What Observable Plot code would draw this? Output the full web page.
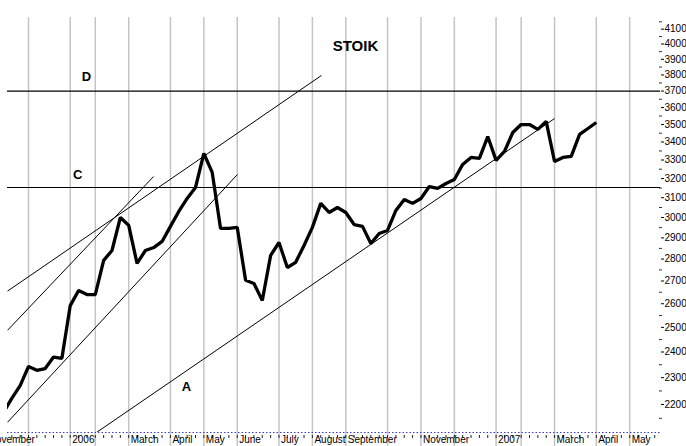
<!DOCTYPE html>
<html><head><meta charset="utf-8">
<script src="https://cdn.jsdelivr.net/npm/d3@7"></script>
<script src="https://cdn.jsdelivr.net/npm/@observablehq/plot@0.6"></script>
<style>
html,body{margin:0;padding:0;background:#fff;}
#chart svg{display:block;}
</style>
</head><body><div id="chart"></div>
<script>
// Weekly closes, week index -3 .. 68 (index 0 = first week of Dec 2005)
const firstWeek = -3;
const closeValues = [
  2171, 2222, 2270, 2343, 2328, 2335, 2380, 2375, 2592, 2658,
  2640, 2640, 2794, 2840, 3000, 2961, 2780, 2840, 2854, 2883,
  2956, 3030, 3096, 3153, 3336, 3233, 2946, 2946, 2951, 2703,
  2689, 2614, 2817, 2878, 2761, 2785, 2864, 2951, 3071, 3025,
  3050, 3025, 2965, 2956, 2873, 2921, 2936, 3035, 3091, 3071,
  3096, 3158, 3148, 3174, 3195, 3276, 3314, 3309, 3431, 3298,
  3347, 3454, 3500, 3500, 3472, 3518, 3292, 3314, 3320, 3443,
  3477, 3512
];
// Month boundaries (week index) and their labels ("" = label hidden)
const monthIndex = [-5, 0, 5, 8, 12, 17, 21, 25, 30, 34, 38, 43, 47, 51, 56, 59, 63, 68, 72];
const monthLabels = ["November", "", "2006", "", "March", "April", "May", "June", "July", "August",
  "September", "", "November", "", "2007", "", "March", "April", "May"];
const tickWeeks = d3.range(-2, 76);
// Y axis ticks
const yTickValues = d3.range(2200, 4101, 100);
const yMinorTicks = d3.range(2150, 4151, 100);
// Horizontal levels
const levelNames = ["C", "D"];
const levelValues = [3153, 3700];
// Trend lines (week, value) endpoints
const trendNames = ["A", "channel low", "channel mid", "tangent"];
const trendWeek1 = [8.14, -2.51, -2.51, -2.51];
const trendValue1 = [2100, 2136, 2488, 2655];
const trendWeek2 = [63.0, 25.03, 14.98, 35.09];
const trendValue2 = [3535, 3222, 3211, 3797];
// Letter annotations
const noteNames = ["A", "C", "D"];
const noteWeek = [18.92, 5.9, 6.95];
const noteValue = [2267, 3222, 3790];
const titleText = "STOIK";
const titleWeek = 39.16;

const series = closeValues.map((v, k) => ({week: firstWeek + k, close: v}));
const levels = levelNames.map((n, k) => ({name: n, value: levelValues[k]}));
const trends = trendNames.map((n, k) => ({name: n, x1: trendWeek1[k], y1: trendValue1[k], x2: trendWeek2[k], y2: trendValue2[k]}));
const notes = noteNames.map((n, k) => ({name: n, week: noteWeek[k], value: noteValue[k]}));
const months = monthIndex.map((m, k) => ({week: m, label: monthLabels[k]}));

const chart = Plot.plot({
  width: 686,
  height: 446,
  marginLeft: 7,
  marginRight: 26,
  marginTop: 17,
  marginBottom: 14,
  style: {fontFamily: "'Liberation Sans', Arial, sans-serif", fontSize: "10px", background: "#fff", color: "#000", overflow: "visible"},
  x: {type: "linear", domain: [-2.515, 75.69], axis: null},
  y: {type: "log", domain: [2100, 4180], axis: "right", ticks: yTickValues, tickFormat: d => String(d),
      tickSize: 3, tickPadding: 1, label: null},
  marks: [
    // month grid lines (extending below the axis as major ticks)
    Plot.ruleX(months, {x: "week", stroke: "#c4c4c4", strokeWidth: 1.5, insetBottom: -14}),
    // bottom axis (dotted blue) + weekly ticks
    Plot.ruleY([2100], {stroke: "#3a3acf", strokeWidth: 1.2, strokeDasharray: "1.5,2"}),
    Plot.ruleX(tickWeeks, {x: d => d, stroke: "#222", strokeWidth: 1, insetTop: 418, insetBottom: -6}),
    // minor y ticks
    Plot.ruleY(yMinorTicks, {y: d => d, stroke: "#333", strokeWidth: 1, insetLeft: 652, insetRight: -2}),
    // horizontal levels
    Plot.ruleY(levels, {y: "value", stroke: "#000", strokeWidth: 1.2}),
    // trend lines
    Plot.link(trends, {x1: "x1", y1: "y1", x2: "x2", y2: "y2", stroke: "#000", strokeWidth: 1, clip: true}),
    // price line
    Plot.line(series, {x: "week", y: "close", stroke: "#000", strokeWidth: 3.3, strokeLinejoin: "miter", strokeLinecap: "butt", clip: true}),
    // annotations
    Plot.text(notes, {x: "week", y: "value", text: "name", fontSize: 13, fontWeight: "bold"}),
    Plot.text([titleText], {x: () => titleWeek, text: d => d, frameAnchor: "top", dy: 23, fontSize: 15, fontWeight: "bold"}),
    // month labels
    Plot.text(months, {x: "week", text: "label", frameAnchor: "bottom", dy: 10.5, dx: 2, textAnchor: "start", fontSize: 10})
  ]
});
document.getElementById("chart").appendChild(chart);
</script>
</body></html>
